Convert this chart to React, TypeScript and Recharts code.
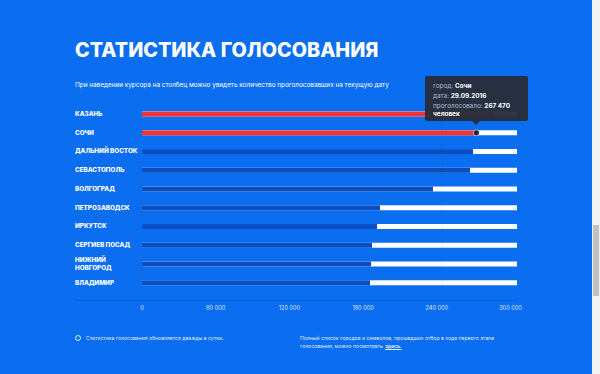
import { BarChart, Bar, XAxis, YAxis, Cell, Tooltip, ReferenceLine } from 'recharts'

const cities = [
  'Казань',
  'Сочи',
  'Дальний Восток',
  'Севастополь',
  'Волгоград',
  'Петрозаводск',
  'Иркутск',
  'Сергиев Посад',
  'Нижний Новгород',
  'Владимир',
]
const votes = [282000, 267470, 264800, 262400, 232800, 190400, 188000, 184000, 183200, 182400]
const leaders = ['Казань', 'Сочи']
const xTicks = [0, 60000, 120000, 180000, 240000, 300000]
const xTickLabels = ['0', '80 000', '120 000', '180 000', '240 000', '300 000']
const gridAt = [240000]
const tooltipDate = '29.09.2016'
const hoveredCity = 'Сочи'

const data = cities.map((city, i) => ({ city, votes: votes[i] }))

const BG = '#0b6ef0'
const DARK = '#0a4fc2'
const RED = '#ee343b'
const FONT = 'Inter, "Noto Sans", sans-serif'

const fmt = (n: number) => n.toLocaleString('ru-RU').replace(/\s/g, ' ')

function CityTick({ y, payload }: any) {
  const words = String(payload.value).toUpperCase().split(' ')
  const lines = words.length > 1 && payload.value.length > 14 ? [words[0], words.slice(1).join(' ')] : [words.join(' ')]
  const start = y - ((lines.length - 1) * 7.5) / 2
  return (
    <text x={75} y={start} fill="#fff" fontSize={6.3} fontWeight={800} fontFamily={FONT} dominantBaseline="central">
      {lines.map((l, i) => (
        <tspan key={i} x={75} dy={i === 0 ? 0 : 7.5}>
          {l}
        </tspan>
      ))}
    </text>
  )
}

function ValueTick({ x, y, payload, index }: any) {
  return (
    <text x={x - index * 1.3} y={y + 10} fill="rgba(255,255,255,0.85)" fontSize={5.6} fontFamily={FONT} textAnchor="middle">
      {xTickLabels[index] ?? payload.value}
    </text>
  )
}

function BarShape(props: any) {
  const { x, y, width, height, fill, payload } = props
  return (
    <g>
      <rect x={x} y={y} width={width} height={height} fill={fill} />
      {payload.city === hoveredCity && (
        <circle cx={x + width} cy={y + height / 2} r={3} fill="#1d2430" stroke="rgba(255,255,255,0.55)" strokeWidth={1} />
      )}
    </g>
  )
}

function VoteTooltip({ active, payload }: any) {
  if (!active || !payload || !payload.length) return null
  const d = payload[0].payload
  const lbl = { color: '#b5bcc8' }
  const val = { color: '#fff', fontWeight: 700 }
  return (
    <div
      style={{
        position: 'relative',
        width: 103,
        height: 45,
        boxSizing: 'border-box',
        padding: '5px 8px',
        background: 'rgba(40,46,58,0.96)',
        borderRadius: 2,
        fontFamily: FONT,
        fontSize: 6.4,
        lineHeight: '10px',
      }}
    >
      <div>
        <span style={lbl}>город: </span>
        <span style={val}>{d.city}</span>
      </div>
      <div>
        <span style={lbl}>дата: </span>
        <span style={val}>{tooltipDate}</span>
      </div>
      <div style={{ lineHeight: '8px', marginTop: 1 }}>
        <span style={lbl}>проголосовало: </span>
        <span style={val}>{fmt(d.votes)}</span>
        <br />
        <span style={val}>человек</span>
      </div>
      <div
        style={{
          position: 'absolute',
          left: 47,
          bottom: -4,
          width: 0,
          height: 0,
          borderLeft: '4px solid transparent',
          borderRight: '4px solid transparent',
          borderTop: '4px solid rgba(40,46,58,0.96)',
        }}
      />
    </div>
  )
}

export default function App() {
  return (
    <div style={{ position: 'absolute', left: 0, top: 0, width: 600, height: 374, background: BG, overflow: 'hidden', fontFamily: FONT }}>
      <div style={{ position: 'absolute', left: 75, top: 38, color: '#fff', fontSize: 19.8, fontWeight: 800, whiteSpace: 'nowrap' }}>
        СТАТИСТИКА ГОЛОСОВАНИЯ
      </div>
      <div style={{ position: 'absolute', left: 75, top: 81, color: '#fff', fontSize: 6.4, whiteSpace: 'nowrap' }}>
        При наведении курсора на столбец можно увидеть количество проголосовавших на текущую дату
      </div>

      <div style={{ position: 'absolute', left: 0, top: 0 }}>
        <BarChart
          width={600}
          height={374}
          data={data}
          layout="vertical"
          margin={{ top: 104.6, right: 83, bottom: 62, left: 0 }}
        >
          <XAxis
            type="number"
            domain={[0, 300000]}
            ticks={xTicks}
            axisLine={false}
            tickLine={false}
            height={20}
            tick={<ValueTick />}
            interval={0}
          />
          <YAxis type="category" dataKey="city" width={142} axisLine={false} tickLine={false} tick={<CityTick />} interval={0} />
          <Bar dataKey="votes" barSize={5} background={{ fill: '#fff' }} shape={<BarShape />} isAnimationActive={false}>
            {data.map((d) => (
              <Cell key={d.city} fill={leaders.includes(d.city) ? RED : DARK} />
            ))}
          </Bar>
          {gridAt.map((t) => (
            <ReferenceLine key={t} x={t} stroke="rgba(10,60,140,0.09)" strokeWidth={1} />
          ))}
          <Tooltip
            active
            defaultIndex={1}
            cursor={false}
            isAnimationActive={false}
            position={{ x: 425, y: 76 }}
            content={<VoteTooltip />}
            wrapperStyle={{ outline: 'none' }}
          />
        </BarChart>
      </div>

      <div style={{ position: 'absolute', left: 75, top: 300, width: 442, height: 1, background: 'rgba(0,60,170,0.4)' }} />

      <div style={{ position: 'absolute', left: 75, top: 335, width: 6, height: 6, borderRadius: '50%', border: '0.8px solid rgba(255,255,255,0.85)', boxSizing: 'border-box' }} />
      <div style={{ position: 'absolute', left: 86, top: 334.5, color: 'rgba(255,255,255,0.9)', fontSize: 5.1, whiteSpace: 'nowrap' }}>
        Статистика голосования обновляется дважды в сутки.
      </div>
      <div style={{ position: 'absolute', left: 300, top: 334, color: 'rgba(255,255,255,0.9)', fontSize: 5.1, lineHeight: '8px', whiteSpace: 'nowrap' }}>
        <div>Полный список городов и символов, прошедших отбор в ходе первого этапа</div>
        <div>
          <span>голосования, можно посмотреть</span>
          <span style={{ marginLeft: 2, textDecoration: 'underline', fontWeight: 700 }}>здесь.</span>
        </div>
      </div>

      <div style={{ position: 'absolute', left: 592, top: 0, width: 8, height: 374, background: '#f1f1f1' }} />
      <div style={{ position: 'absolute', left: 593, top: 225, width: 6, height: 71, background: '#c1c1c1' }} />
    </div>
  )
}
